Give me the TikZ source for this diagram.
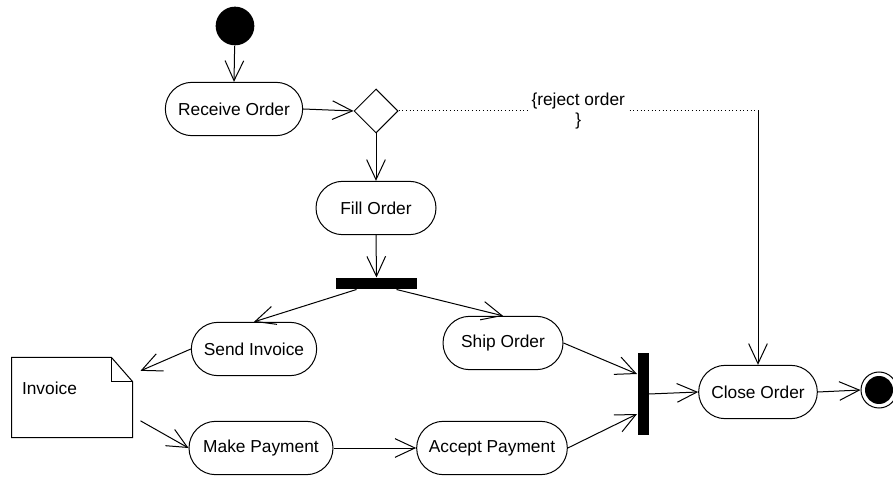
\documentclass[tikz,border=0pt]{standalone}
\usepackage{fontspec}
\setmainfont{Liberation Sans}
\usetikzlibrary{arrows.meta}
\usetikzlibrary{shapes.geometric}

\tikzset{
    activity/.style={draw, rectangle, rounded corners=20pt, minimum height=40pt, inner sep=1pt},
    flow/.style={-{Straight Barb[length=15pt,width=14pt]}},
    syncbar/.style={rectangle, fill=black, draw=none, inner sep=0pt},
    notebox/.style={rectangle, minimum width=90pt, minimum height=59.25pt, inner xsep=7.5pt,
        text width=75pt, align=left, text depth=13.5pt},
}

\begin{document}
\begin{tikzpicture}[x=0.75pt, y=-0.75pt, line width=0.75pt, font=\fontsize{13}{15.6}\selectfont]
    \useasboundingbox (0,0) rectangle (893,477);

    % Start and decision
    \node[circle, fill=black, minimum size=29pt, inner sep=0pt] (start) at (235,26) {};
    \node[activity, minimum width=103pt] (recv) at (234,109) {Receive Order};
    \node[diamond, draw, minimum width=33pt, minimum height=33pt, inner sep=0pt] (decide) at (376,111) {};
    \node[activity, minimum width=90pt] (fill) at (376,208) {Fill Order};
    \node[syncbar, minimum width=60.75pt, minimum height=8.25pt] (fork) at (376.5,283.5) {};
    \coordinate (corner) at (758,111);

    % Parallel flows
    \node[activity, minimum width=94pt] (sendinv) at (254,349) {Send Invoice};
    \node[activity, minimum width=90pt] (ship) at (503,343) {Ship Order};
    \node[notebox] (invoice) at (72,397.5) {Invoice};
    \node[activity, minimum width=108pt] (pay) at (261,448) {Make Payment};
    \node[activity, minimum width=113pt] (accept) at (492,448) {Accept Payment};
    \node[syncbar, minimum width=8.25pt, minimum height=60.75pt] (join) at (643,394) {};

    % End
    \node[activity, minimum width=89pt] (close) at (758,392) {Close Order};
    \node[circle, draw, minimum size=27pt, inner sep=0pt,
        path picture={\fill (path picture bounding box.center) circle (10.5pt);}] (end) at (879,390) {};

    % Invoice note
    \draw (invoice.north west) -- ([xshift=-15.75pt]invoice.north east) -- ([yshift=-18pt]invoice.north east)
        -- (invoice.south east) -- (invoice.south west) -- cycle;
    \draw ([xshift=-15.75pt]invoice.north east) |- ([yshift=-18pt]invoice.north east);

    % Transitions
    \draw[flow] (start) -- (recv.north);
    \draw[flow] (recv.east) -- (decide.west);
    \draw[flow] (decide.south) -- (fill.north);
    \draw[dotted] (decide.east) -- node[fill=white, align=center, inner sep=2.5pt] {\{reject order\\\}} (corner);
    \draw[flow] (corner) -- (close.north);
    \draw[flow] (fill.south) -- (fork.north);
    \draw[flow] ([xshift=-15pt]fork.south) -- (sendinv.north);
    \draw[flow] ([xshift=15pt]fork.south) -- (ship.north);
    \draw[flow] (sendinv.west) -- ([xshift=6pt,yshift=20pt]invoice.east);
    \draw[flow] ([xshift=6pt,yshift=-17.5pt]invoice.east) -- (pay.west);
    \draw[flow] (pay.east) -- (accept.west);
    \draw[flow] (ship.east) -- ([yshift=15pt]join.west);
    \draw[flow] (accept.east) -- ([yshift=-15pt]join.west);
    \draw[flow] (join.east) -- (close.west);
    \draw[flow] (close.east) -- (end.west);
\end{tikzpicture}
\end{document}
